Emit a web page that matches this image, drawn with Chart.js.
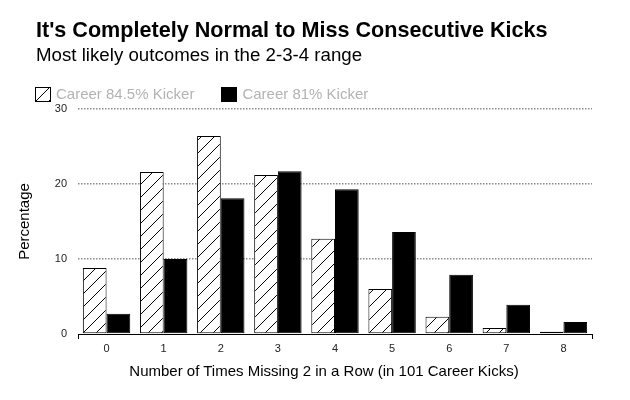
<!DOCTYPE html>
<html lang="en">
<head>
    <meta charset="UTF-8">
    <title>Consecutive Missed Kicks</title>
    <style>
        body {
            margin: 0;
            background: #fff;
            font-family: "Liberation Sans", Arial, sans-serif;
        }
        #page {
            position: relative;
            width: 630px;
            height: 400px;
            overflow: hidden;
        }
        #wrap {
            position: absolute;
            left: 0;
            top: 0;
            width: 630px;
            height: 400px;
        }
        .txt {
            position: absolute;
            white-space: nowrap;
            pointer-events: none;
        }
        #title {
            left: 36px;
            top: 18.5px;
            font-size: 21.6px;
            line-height: 21.6px;
            font-weight: bold;
            color: #000;
        }
        #subtitle {
            left: 36px;
            top: 45.8px;
            font-size: 18.7px;
            line-height: 18.7px;
            color: #000;
        }
        #legend {
            left: 35px;
            top: 86px;
            font-size: 15px;
            line-height: 15px;
            color: #b3b3b3;
        }
        #legend .item {
            display: inline-block;
            margin-right: 27px;
        }
        #legend .box {
            display: inline-block;
            box-sizing: border-box;
            width: 16px;
            height: 15px;
            border: 1px solid #000;
            margin-right: 5px;
            vertical-align: -3px;
        }
        #xtitle {
            left: 0;
            width: 648px;
            top: 362.5px;
            text-align: center;
            font-size: 15px;
            line-height: 15px;
            color: #000;
        }
    </style>
</head>
<body>
<div id="page">
    <div id="wrap"><canvas id="kicksChart"></canvas></div>
    <div class="txt" id="title">It's Completely Normal to Miss Consecutive Kicks</div>
    <div class="txt" id="subtitle">Most likely outcomes in the 2-3-4 range</div>
    <div class="txt" id="legend"></div>
    <div class="txt" id="xtitle">Number of Times Missing 2 in a Row (in 101 Career Kicks)</div>
</div>
<script src="https://cdn.jsdelivr.net/npm/chart.js"></script>
<script>
    // values (percent)
    const categories = ['0', '1', '2', '3', '4', '5', '6', '7', '8'];
    const kicker845 = [8.8, 21.6, 26.4, 21.2, 12.7, 6.0, 2.3, 0.8, 0.3];
    const kicker81 = [2.7, 10.0, 18.1, 21.7, 19.3, 13.6, 7.9, 3.9, 1.6];
    const seriesLabels = ['Career 84.5% Kicker', 'Career 81% Kicker'];
    const yTicks = [0, 10, 20, 30];

    // diagonal hatch used for the 84.5% kicker
    function makeHatch() {
        const c = document.createElement('canvas');
        c.width = 13;
        c.height = 13;
        const g = c.getContext('2d');
        g.fillStyle = '#fff';
        g.fillRect(0, 0, 13, 13);
        g.strokeStyle = '#000';
        g.lineWidth = 1;
        g.beginPath();
        g.moveTo(0, 13);
        g.lineTo(13, 0);
        g.moveTo(-1, 1);
        g.lineTo(1, -1);
        g.moveTo(12, 14);
        g.lineTo(14, 12);
        g.stroke();
        return c;
    }
    const hatchCanvas = makeHatch();
    const hatch = document.createElement('canvas').getContext('2d').createPattern(hatchCanvas, 'repeat');

    // legend in html
    const legendFills = ['url(' + hatchCanvas.toDataURL() + ')', '#000'];
    document.getElementById('legend').innerHTML = seriesLabels.map((l, i) =>
        `<span class="item"><span class="box" style="background:${legendFills[i]}"></span>${l}</span>`
    ).join('');

    const ctx = document.getElementById('kicksChart').getContext('2d');
    const chart = new Chart(ctx, {
        type: 'bar',
        data: {
            labels: categories,
            datasets: [{
                label: seriesLabels[0],
                data: kicker845,
                backgroundColor: hatch,
                borderColor: '#000',
                borderWidth: 1,
                borderSkipped: false
            }, {
                label: seriesLabels[1],
                data: kicker81,
                backgroundColor: '#000',
                borderColor: '#000',
                borderWidth: 1,
                borderSkipped: false
            }]
        },
        options: {
            responsive: true,
            maintainAspectRatio: false,
            animation: false,
            layout: {
                padding: { top: 109, left: 16, right: 38, bottom: 44 }
            },
            datasets: {
                bar: { categoryPercentage: 0.83, barPercentage: 1.0 }
            },
            plugins: {
                legend: { display: false },
                title: { display: false },
                tooltip: { enabled: false }
            },
            scales: {
                x: {
                    afterFit: s => { s.height = 22; },
                    grid: {
                        offset: true,
                        drawOnChartArea: false,
                        drawTicks: true,
                        tickLength: 5,
                        lineWidth: 1,
                        // only the two end ticks are visible
                        color: c => (c.type === 'scale' || c.index === 0) ? '#000' : 'rgba(0,0,0,0)'
                    },
                    border: { display: true, color: '#000', width: 1 },
                    ticks: {
                        font: { family: 'Liberation Sans', size: 11 },
                        color: '#222',
                        padding: 3,
                        maxRotation: 0
                    }
                },
                y: {
                    min: yTicks[0],
                    max: yTicks[yTicks.length - 1],
                    afterFit: s => { s.width = 62; },
                    afterBuildTicks: s => { s.ticks = yTicks.map(v => ({ value: v })); },
                    grid: {
                        drawTicks: false,
                        lineWidth: 1.5,
                        color: c => c.tick && c.tick.value === 0 ? 'rgba(0,0,0,0)' : '#8c8c8c'
                    },
                    border: { display: false, dash: [1.5, 1.5] },
                    ticks: {
                        font: { family: 'Liberation Sans', size: 11 },
                        color: '#222',
                        padding: 11
                    },
                    title: {
                        display: true,
                        text: 'Percentage',
                        font: { family: 'Liberation Sans', size: 15 },
                        color: '#000',
                        padding: 0
                    }
                }
            }
        }
    });
</script>
</body>
</html>
